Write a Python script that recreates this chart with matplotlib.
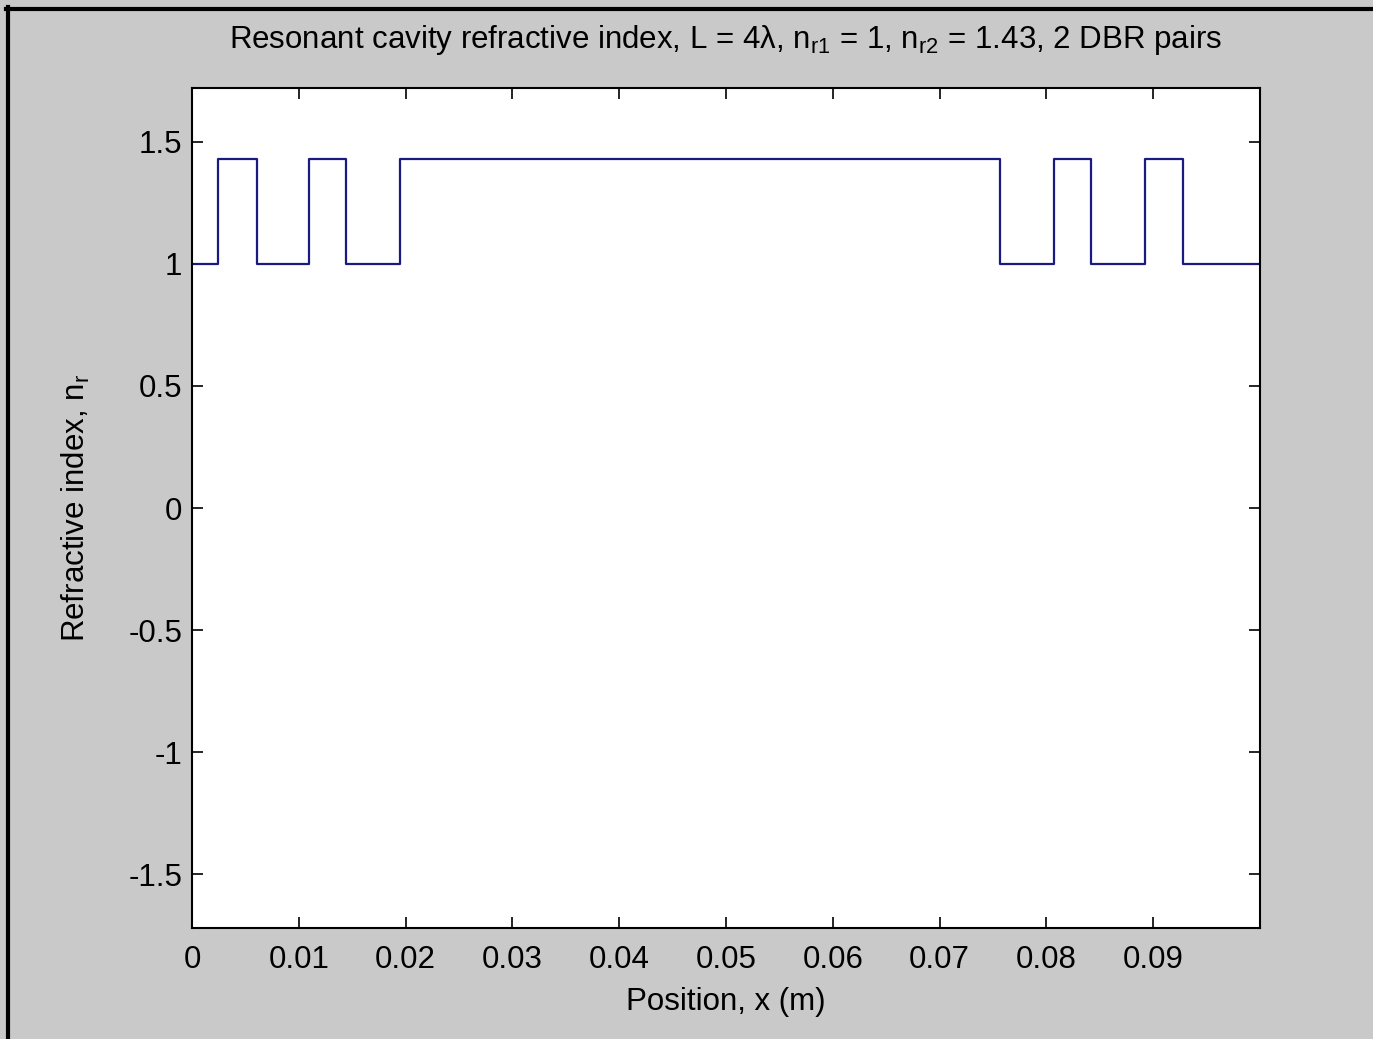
import numpy as np
import matplotlib
matplotlib.use("Agg")
import matplotlib.pyplot as plt
from matplotlib.lines import Line2D

plt.rcParams["font.family"] = ["Liberation Sans", "DejaVu Sans"]
plt.rcParams["mathtext.fontset"] = "custom"
plt.rcParams["mathtext.rm"] = "Liberation Sans"
plt.rcParams["mathtext.it"] = "Liberation Sans:italic"

# layer boundaries (m) and refractive index of each layer
edges = [0.0, 0.00244, 0.00609, 0.01097, 0.01444, 0.0195,
         0.07566, 0.08072, 0.08419, 0.08925, 0.09281, 0.1]
n_layer = [1, 1.43, 1, 1.43, 1, 1.43, 1, 1.43, 1, 1.43, 1]

x_ticks = [0, 0.01, 0.02, 0.03, 0.04, 0.05, 0.06, 0.07, 0.08, 0.09]
x_labels = ["0", "0.01", "0.02", "0.03", "0.04", "0.05", "0.06", "0.07", "0.08", "0.09"]
y_ticks = [-1.5, -1, -0.5, 0, 0.5, 1, 1.5]
y_labels = ["-1.5", "-1", "-0.5", "0", "0.5", "1", "1.5"]

bg = "#c9c9c9"
fs = 22.5
fig = plt.figure(figsize=(13.73, 10.39), dpi=100, facecolor=bg)
ax = fig.add_axes([0.1398, 0.1068, 0.7779, 0.8085])

ax.step(edges, n_layer + [n_layer[-1]], where="post", color="#1a1a80", lw=1.6)

ax.set_xlim(0, 0.1)
ax.set_ylim(-1.72, 1.72)
ax.set_xticks(x_ticks)
ax.set_xticklabels(x_labels)
ax.set_yticks(y_ticks)
ax.set_yticklabels(y_labels)
ax.tick_params(direction="in", length=8, width=1.2, top=True, right=True,
               labelsize=fs, colors="black")
ax.tick_params(axis="x", pad=12)
ax.tick_params(axis="y", pad=7)
for s in ax.spines.values():
    s.set_linewidth(1.5)

ax.set_xlabel("Position, x (m)", fontsize=fs, labelpad=9)
ax.set_ylabel(r"Refractive index, n$_{\rm r}$", fontsize=fs, labelpad=26)
ax.set_title(r"Resonant cavity refractive index, L = 4λ, n$_{\rm r1}$ = 1, "
             r"n$_{\rm r2}$ = 1.43, 2 DBR pairs", fontsize=fs, pad=29)

# window border remnants from the screenshot
fig.add_artist(Line2D([0.0058, 0.0058], [0, 0.993], transform=fig.transFigure,
                      color="black", lw=3))
fig.add_artist(Line2D([0.0045, 1], [0.9915, 0.9915], transform=fig.transFigure,
                      color="black", lw=3))

fig.savefig("out.png", dpi=100, facecolor=bg)
